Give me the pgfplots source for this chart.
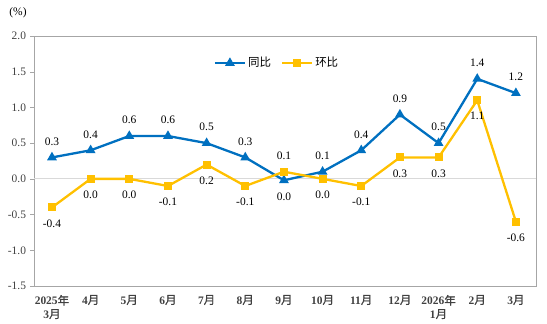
\documentclass[border=0pt]{standalone}
\usepackage{pgfplots}
\pgfplotsset{compat=1.18}
\usepackage{pgfplotstable}
\usepackage{fontspec}
\setmainfont{Liberation Serif}
\newfontfamily\cjk{Noto Sans CJK SC}
\newfontfamily\cjkb{Noto Sans CJK SC}[FakeBold=1.5]
\definecolor{cblue}{HTML}{0070C0}
\definecolor{cyel}{HTML}{FFC000}
\definecolor{tickc}{HTML}{404040}
\definecolor{axc}{HTML}{A6A6A6}
\definecolor{zeroc}{HTML}{D9D9D9}
\newcommand{\ym}[1]{\textbf{#1}{\cjkb 月}}
\pgfplotstableread{
x y pos lab
0 0.3 1 0.3
1 0.4 1 0.4
2 0.6 1 0.6
3 0.6 1 0.6
4 0.5 1 0.5
5 0.3 1 0.3
6 -0.02 -1 0.0
7 0.1 1 0.1
8 0.4 1 0.4
9 0.9 1 0.9
10 0.5 1 0.5
11 1.4 1 1.4
12 1.2 1 1.2
}\tongbi
\pgfplotstableread{
x y pos lab
0 -0.4 -1 -0.4
1 0.0 -1 0.0
2 0.0 -1 0.0
3 -0.1 -1 -0.1
4 0.2 -1 0.2
5 -0.1 -1 -0.1
6 0.1 1 0.1
7 0.0 -1 0.0
8 -0.1 -1 -0.1
9 0.3 -1 0.3
10 0.3 -1 0.3
11 1.1 -1 1.1
12 -0.6 -1 -0.6
}\huanbi
\begin{document}
\fontsize{11.5}{13.5}\selectfont
\begin{tikzpicture}
\path[use as bounding box] (0,0) rectangle (547bp,324bp);
\begin{axis}[
  at={(34bp,38bp)}, anchor=south west,
  scale only axis, width=502bp, height=250bp,
  xmin=-0.465, xmax=12.52,
  ymin=-1.5, ymax=2.0,
  ytick={-1.5,-1,-0.5,0,0.5,1,1.5,2},
  yticklabel style={/pgf/number format/fixed, /pgf/number format/fixed zerofill, /pgf/number format/precision=1, /pgf/number format/assume math mode=true, text=tickc, font=\fontsize{11.5}{13.5}\selectfont},
  extra y ticks={0},
  extra y tick labels={},
  extra y tick style={grid=major, major grid style={draw=zeroc, line width=0.8bp}, major tick length=0pt},
  xtick={0,...,12},
  xticklabels={{\textbf{2025}{\cjkb 年}\\\ym{3}},\ym{4},\ym{5},\ym{6},\ym{7},\ym{8},\ym{9},\ym{10},\ym{11},\ym{12},{\textbf{2026}{\cjkb 年}\\\ym{1}},\ym{2},\ym{3}},
  xticklabel style={align=center, text=tickc, font=\fontsize{11.5}{13.5}\selectfont, yshift=-1bp},
  x tick style={draw=none},
  y tick style={draw=axc},
  tick align=outside, major tick length=4bp,
  ytick pos=left,
  axis line style={draw=axc},
  clip=false,
  point meta=explicit symbolic,
  nodes near coords,
  visualization depends on={\thisrow{pos} \as \labpos},
  every node near coord/.style={anchor=center, yshift=\labpos*16bp, font=\fontsize{11.5}{13.5}\selectfont, text=black},
  legend style={at={(rel axis cs:0.484,0.892)}, anchor=center, draw=none, fill=none,
    legend columns=2, font=\fontsize{11.5}{13.5}\selectfont\cjk,
    /tikz/every even column/.append style={column sep=8bp}},
  legend image code/.code={
    \draw[#1, mark repeat=2, mark phase=2] plot coordinates {(0bp,0bp)(15bp,0bp)(30bp,0bp)};
  },
]
\addplot[cblue, line width=2.3bp, mark=triangle*, mark size=3.4bp, mark options={solid}] table[x=x,y=y,meta=lab] {\tongbi};
\addlegendentry{同比}
\addplot[cyel, line width=2.3bp, mark=square*, mark size=2.8bp, mark options={solid}] table[x=x,y=y,meta=lab] {\huanbi};
\addlegendentry{环比}
\end{axis}
\node[text=black] at (18bp,311bp) {(\%)};
\end{tikzpicture}
\end{document}
